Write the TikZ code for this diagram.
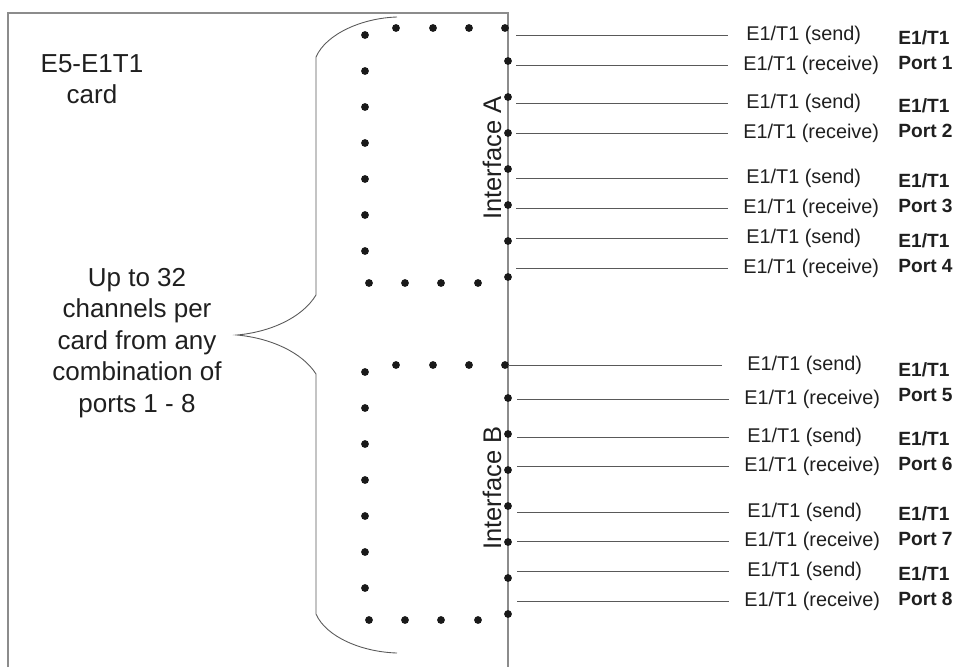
\documentclass[tikz,border=0pt]{standalone}
\usepackage{fontspec}
\setmainfont{Liberation Sans}
\usepackage{xcolor}
\usetikzlibrary{positioning}

\definecolor{edgegray}{gray}{0.55}
\definecolor{wiregray}{gray}{0.35}
\definecolor{inkgray}{gray}{0.12}

\tikzset{
  sig/.style={anchor=west, inner sep=0pt, text=inkgray, font=\fontsize{11.3}{13}\selectfont},
  portlbl/.style={anchor=west, inner sep=0pt, align=left, text=inkgray, font=\fontsize{10.9}{14.2}\selectfont\bfseries},
  bigtxt/.style={align=center, inner sep=0pt, text=inkgray, font=\fontsize{14.8}{17.9}\selectfont},
  ifacelbl/.style={rotate=90, inner sep=0pt, text=inkgray, font=\fontsize{14.5}{17}\selectfont},
  wire/.style={draw=wiregray, line width=0.55pt},
  pin/.style={fill=black!90}
}

\begin{document}
\begin{tikzpicture}[x=0.02cm, y=-0.02cm]
        \useasboundingbox (0,0) rectangle (956,667);

        \draw[edgegray, line width=0.6pt] (8,667) -- (8,13) -- (508,13) -- (508,667);

        \node[bigtxt] (cardname) at (92,79) {E5-E1T1\\card};
        \node[bigtxt] (chans) at (137,343) {Up to 32\\channels per\\card from any\\combination of\\ports 1 - 8};

        \draw[wiregray, line width=0.5pt] (397,17) .. controls (362,18) and (326,34) .. (316,57)
            -- (316,295) .. controls (302,318) and (270,332) .. (237,335)
            .. controls (270,338) and (302,352) .. (316,374)
            -- (316,614) .. controls (326,637) and (362,652) .. (397,653);

        \foreach \dy in {0,337} {
            \foreach \x in {396,433,469,505} \fill[pin] (\x,28+\dy) circle (3.9);
            \foreach \y in {35,71,107,143,179,215,251} \fill[pin] (365,\y+\dy) circle (3.9);
            \foreach \x in {369,405,441,478} \fill[pin] (\x,283+\dy) circle (3.9);
            \foreach \y in {61,97,133,169,205,241,277} \fill[pin] (508,\y+\dy) circle (3.9);
        }

        \node[ifacelbl] (ifA) at (492,158) {Interface A};
        \node[ifacelbl] (ifB) at (492,488) {Interface B};

        \foreach \y/\xs/\xe/\xl/\kind [count=\i] in {
            35/516/728/746/send, 65/516/728/743/receive,
            103/516/728/746/send, 133/516/728/743/receive,
            178/516/728/746/send, 208/516/728/743/receive,
            238/516/728/746/send, 268/516/728/743/receive,
            365/508/722/747/send, 399/517/729/744/receive,
            437/517/729/747/send, 466/517/729/744/receive,
            512/517/729/747/send, 541/517/729/744/receive,
            571/517/729/747/send, 601/517/729/744/receive} {
            \coordinate (w\i) at (\xs,\y);
            \coordinate (we\i) at (\xe,\y);
            \node[sig] (lbl\i) at (\xl,\y) {E1/T1 (\kind)};
            \draw[wire] (w\i) -- (we\i);
        }

        \foreach \y/\p in {50/1, 118/2, 193/3, 253/4, 382/5, 451/6, 526/7, 586/8} {
            \node[portlbl] (port\p) at (898,\y) {E1/T1\\Port \p};
        }
\end{tikzpicture}
\end{document}
